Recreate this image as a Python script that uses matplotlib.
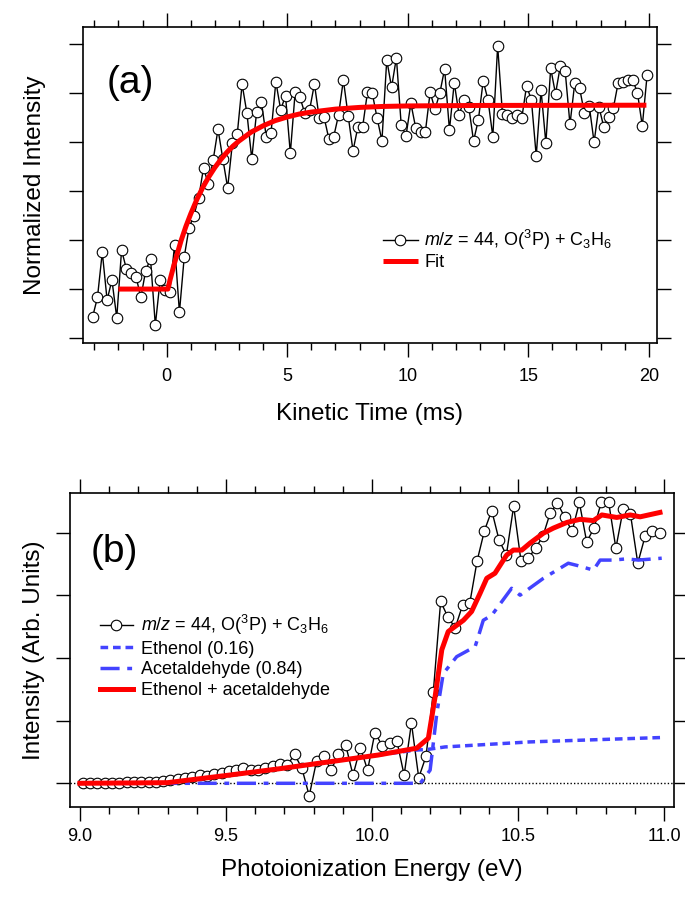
import numpy as np
import matplotlib
matplotlib.use("Agg")
import matplotlib.pyplot as plt
from matplotlib.ticker import MultipleLocator

plt.rcParams["font.family"] = ["Liberation Sans", "DejaVu Sans"]
plt.rcParams["mathtext.fontset"] = "custom"
plt.rcParams["mathtext.rm"] = "Liberation Sans"
plt.rcParams["mathtext.it"] = "Liberation Sans:italic"

# Panel (a): kinetic trace, m/z = 44
kinetic_time = np.round(np.arange(116) * 0.2 - 3.07, 2)
kinetic_signal = [
    -0.113, -0.034, 0.150, -0.045, 0.037, -0.117, 0.159, 0.082, 0.064, 0.050,
    -0.034, 0.075, 0.124, -0.147, 0.037, -0.005, -0.010, 0.180, -0.095, 0.132,
    0.250, 0.300, 0.373, 0.495, 0.427, 0.527, 0.652, 0.531, 0.413, 0.597,
    0.633, 0.836, 0.717, 0.531, 0.721, 0.765, 0.622, 0.638, 0.846, 0.731,
    0.789, 0.554, 0.803, 0.782, 0.717, 0.731, 0.837, 0.697, 0.701, 0.612,
    0.622, 0.710, 0.853, 0.706, 0.564, 0.660, 0.662, 0.803, 0.799, 0.697,
    0.605, 0.935, 0.823, 0.944, 0.669, 0.626, 0.758, 0.658, 0.640, 0.640,
    0.803, 0.733, 0.799, 0.898, 0.649, 0.842, 0.710, 0.771, 0.744, 0.604,
    0.690, 0.849, 0.771, 0.622, 0.992, 0.714, 0.710, 0.697, 0.710, 0.697,
    0.829, 0.771, 0.543, 0.812, 0.595, 0.901, 0.796, 0.910, 0.890, 0.672,
    0.842, 0.819, 0.717, 0.747, 0.599, 0.744, 0.662, 0.701, 0.738, 0.842,
    0.846, 0.853, 0.853, 0.801, 0.665, 0.873,
]
fit_time = [-2.0, 0.05, 0.15, 0.3, 0.6, 0.8, 1.0, 1.25, 1.5, 1.75, 2.0, 2.25,
            2.5, 2.75, 3.0, 3.5, 4.0, 4.5, 5.0, 5.5, 6.0, 7.0, 8.0, 9.0, 10.0,
            13.0, 19.9]
fit_signal = [0.0, 0.0, 0.041, 0.097, 0.198, 0.256, 0.307, 0.365, 0.415, 0.458,
              0.496, 0.529, 0.558, 0.583, 0.604, 0.640, 0.666, 0.687, 0.702,
              0.714, 0.722, 0.734, 0.741, 0.745, 0.747, 0.749, 0.750]

# Panel (b): photoionization spectrum
energy = np.round(np.arange(80) * 0.025 + 9.01, 3)
pie_signal = [
    0.00, 0.00, 0.00, 0.00, 0.00, 0.01, 0.02, 0.02, 0.02, 0.02,
    0.025, 0.03, 0.05, 0.07, 0.08, 0.10, 0.13, 0.12, 0.15, 0.17,
    0.19, 0.21, 0.24, 0.22, 0.21, 0.25, 0.27, 0.30, 0.29, 0.46,
    0.24, -0.20, 0.35, 0.43, 0.21, 0.47, 0.61, 0.13, 0.57, 0.21,
    0.81, 0.60, 0.64, 0.68, 0.13, 0.96, 0.09, 0.43, 1.46, 2.90,
    2.65, 2.48, 2.84, 2.88, 3.55, 4.03, 4.35, 3.88, 3.64, 4.42,
    3.55, 3.59, 3.75, 3.94, 4.31, 4.47, 4.24, 4.02, 4.48, 3.85,
    4.07, 4.48, 4.49, 3.75, 4.37, 4.29, 3.51, 3.94, 4.02, 4.00,
]
ethenol_e = [9.00, 9.30, 9.51, 9.68, 10.02, 10.15, 10.19, 10.25, 10.54, 10.99]
ethenol_s = [0.0, 0.01, 0.13, 0.23, 0.45, 0.53, 0.54, 0.58, 0.66, 0.73]
acet_e = [9.00, 10.165, 10.199, 10.222, 10.244, 10.29, 10.353, 10.364, 10.381,
          10.41, 10.478, 10.507, 10.587, 10.672, 10.706, 10.758, 10.781,
          10.826, 10.872, 10.912, 10.992]
acet_s = [0.0, 0.0, 0.21, 1.12, 1.75, 2.02, 2.18, 2.34, 2.60, 2.68, 3.11, 3.00,
          3.27, 3.51, 3.47, 3.40, 3.56, 3.56, 3.58, 3.56, 3.59]
sum_e = [9.00, 9.30, 9.51, 9.68, 10.02, 10.153, 10.193, 10.216, 10.239, 10.261,
         10.313, 10.341, 10.37, 10.393, 10.421, 10.461, 10.484, 10.513, 10.541,
         10.587, 10.621, 10.667, 10.712, 10.758, 10.787, 10.838, 10.884,
         10.918, 10.986]
sum_s = [0.0, 0.01, 0.13, 0.23, 0.45, 0.56, 0.72, 1.38, 2.13, 2.42, 2.60, 2.74,
         3.03, 3.27, 3.35, 3.64, 3.72, 3.72, 3.83, 3.99, 4.07, 4.16, 4.21, 4.19,
         4.28, 4.24, 4.28, 4.25, 4.32]

data_label = r"$m/z$ = 44, O($^{3}$P) + C$_{3}$H$_{6}$"
blue = "#4343ff"

fig = plt.figure(figsize=(6.85, 8.98), dpi=100)
ax1 = fig.add_axes([83 / 685, 1 - 343 / 898, 574 / 685, 316 / 898])
ax2 = fig.add_axes([70 / 685, 1 - 807 / 898, 604 / 685, 314 / 898])

marker_kw = dict(marker="o", ms=7.6, mfc="white", mec="black", mew=0.8,
                 color="black", lw=1.0)

# ---- panel (a)
ax1.plot(kinetic_time, kinetic_signal, label=data_label, zorder=2, **marker_kw)
ax1.plot(fit_time, fit_signal, color="red", lw=3.6, label="Fit", zorder=3,
         solid_capstyle="butt")
ax1.set_xlim(-3.47, 20.34)
ax1.set_ylim(-0.22, 1.069)
ax1.xaxis.set_major_locator(MultipleLocator(5))
ax1.xaxis.set_minor_locator(MultipleLocator(1))
ax1.yaxis.set_major_locator(MultipleLocator(0.2))
ax1.set_xlabel("Kinetic Time (ms)", fontsize=17.5)
ax1.set_ylabel("Normalized Intensity", fontsize=17.5)
ax1.xaxis.set_label_coords(0.5, -0.19)
ax1.yaxis.set_label_coords(-0.065, 0.5)
ax1.text(0.041, 0.79, "(a)", transform=ax1.transAxes, fontsize=28)
ax1.legend(loc="center left", bbox_to_anchor=(0.522, 0.296), frameon=False,
           fontsize=13, handlelength=1.95, handletextpad=0.35,
           labelspacing=0.1, borderpad=0, borderaxespad=0)

# ---- panel (b)
ax2.axhline(0, color="black", lw=1.0, ls=(0, (1, 1.5)), zorder=1)
ax2.plot(energy, pie_signal, label=data_label, zorder=2, **marker_kw)
ax2.plot(ethenol_e, ethenol_s, color=blue, lw=2.5, ls=(0, (2.2, 1.4)),
         label="Ethenol (0.16)", zorder=3)
ax2.plot(acet_e, acet_s, color=blue, lw=2.5, ls=(0, (5.5, 2.2, 1.4, 2.2)),
         label="Acetaldehyde (0.84)", zorder=3)
ax2.plot(sum_e, sum_s, color="red", lw=3.6, label="Ethenol + acetaldehyde",
         zorder=4)
ax2.set_xlim(8.966, 11.034)
ax2.set_ylim(-0.378, 4.63)
ax2.xaxis.set_major_locator(MultipleLocator(0.5))
ax2.xaxis.set_minor_locator(MultipleLocator(0.1))
ax2.yaxis.set_major_locator(MultipleLocator(1))
ax2.set_xticks([9.0, 9.5, 10.0, 10.5, 11.0])
ax2.set_xticklabels(["9.0", "9.5", "10.0", "10.5", "11.0"])
ax2.set_xlabel("Photoionization Energy (eV)", fontsize=17.5)
ax2.set_ylabel("Intensity (Arb. Units)", fontsize=17.5)
ax2.xaxis.set_label_coords(0.5, -0.165)
ax2.yaxis.set_label_coords(-0.042, 0.5)
ax2.text(0.034, 0.78, "(b)", transform=ax2.transAxes, fontsize=28)
ax2.legend(loc="center left", bbox_to_anchor=(0.05, 0.481), frameon=False,
           fontsize=13, handlelength=1.8, handletextpad=0.45,
           labelspacing=0.2, borderpad=0, borderaxespad=0)

for ax in (ax1, ax2):
    for sp in ax.spines.values():
        sp.set_linewidth(1.2)
    ax.tick_params(which="both", direction="out", top=True, right=True,
                   labelleft=False, labelsize=13, width=1.0, pad=8)
    ax.tick_params(which="major", length=10)
    ax.tick_params(which="minor", length=5)
ax2.tick_params(pad=5)

fig.savefig("out.png", dpi=100)
